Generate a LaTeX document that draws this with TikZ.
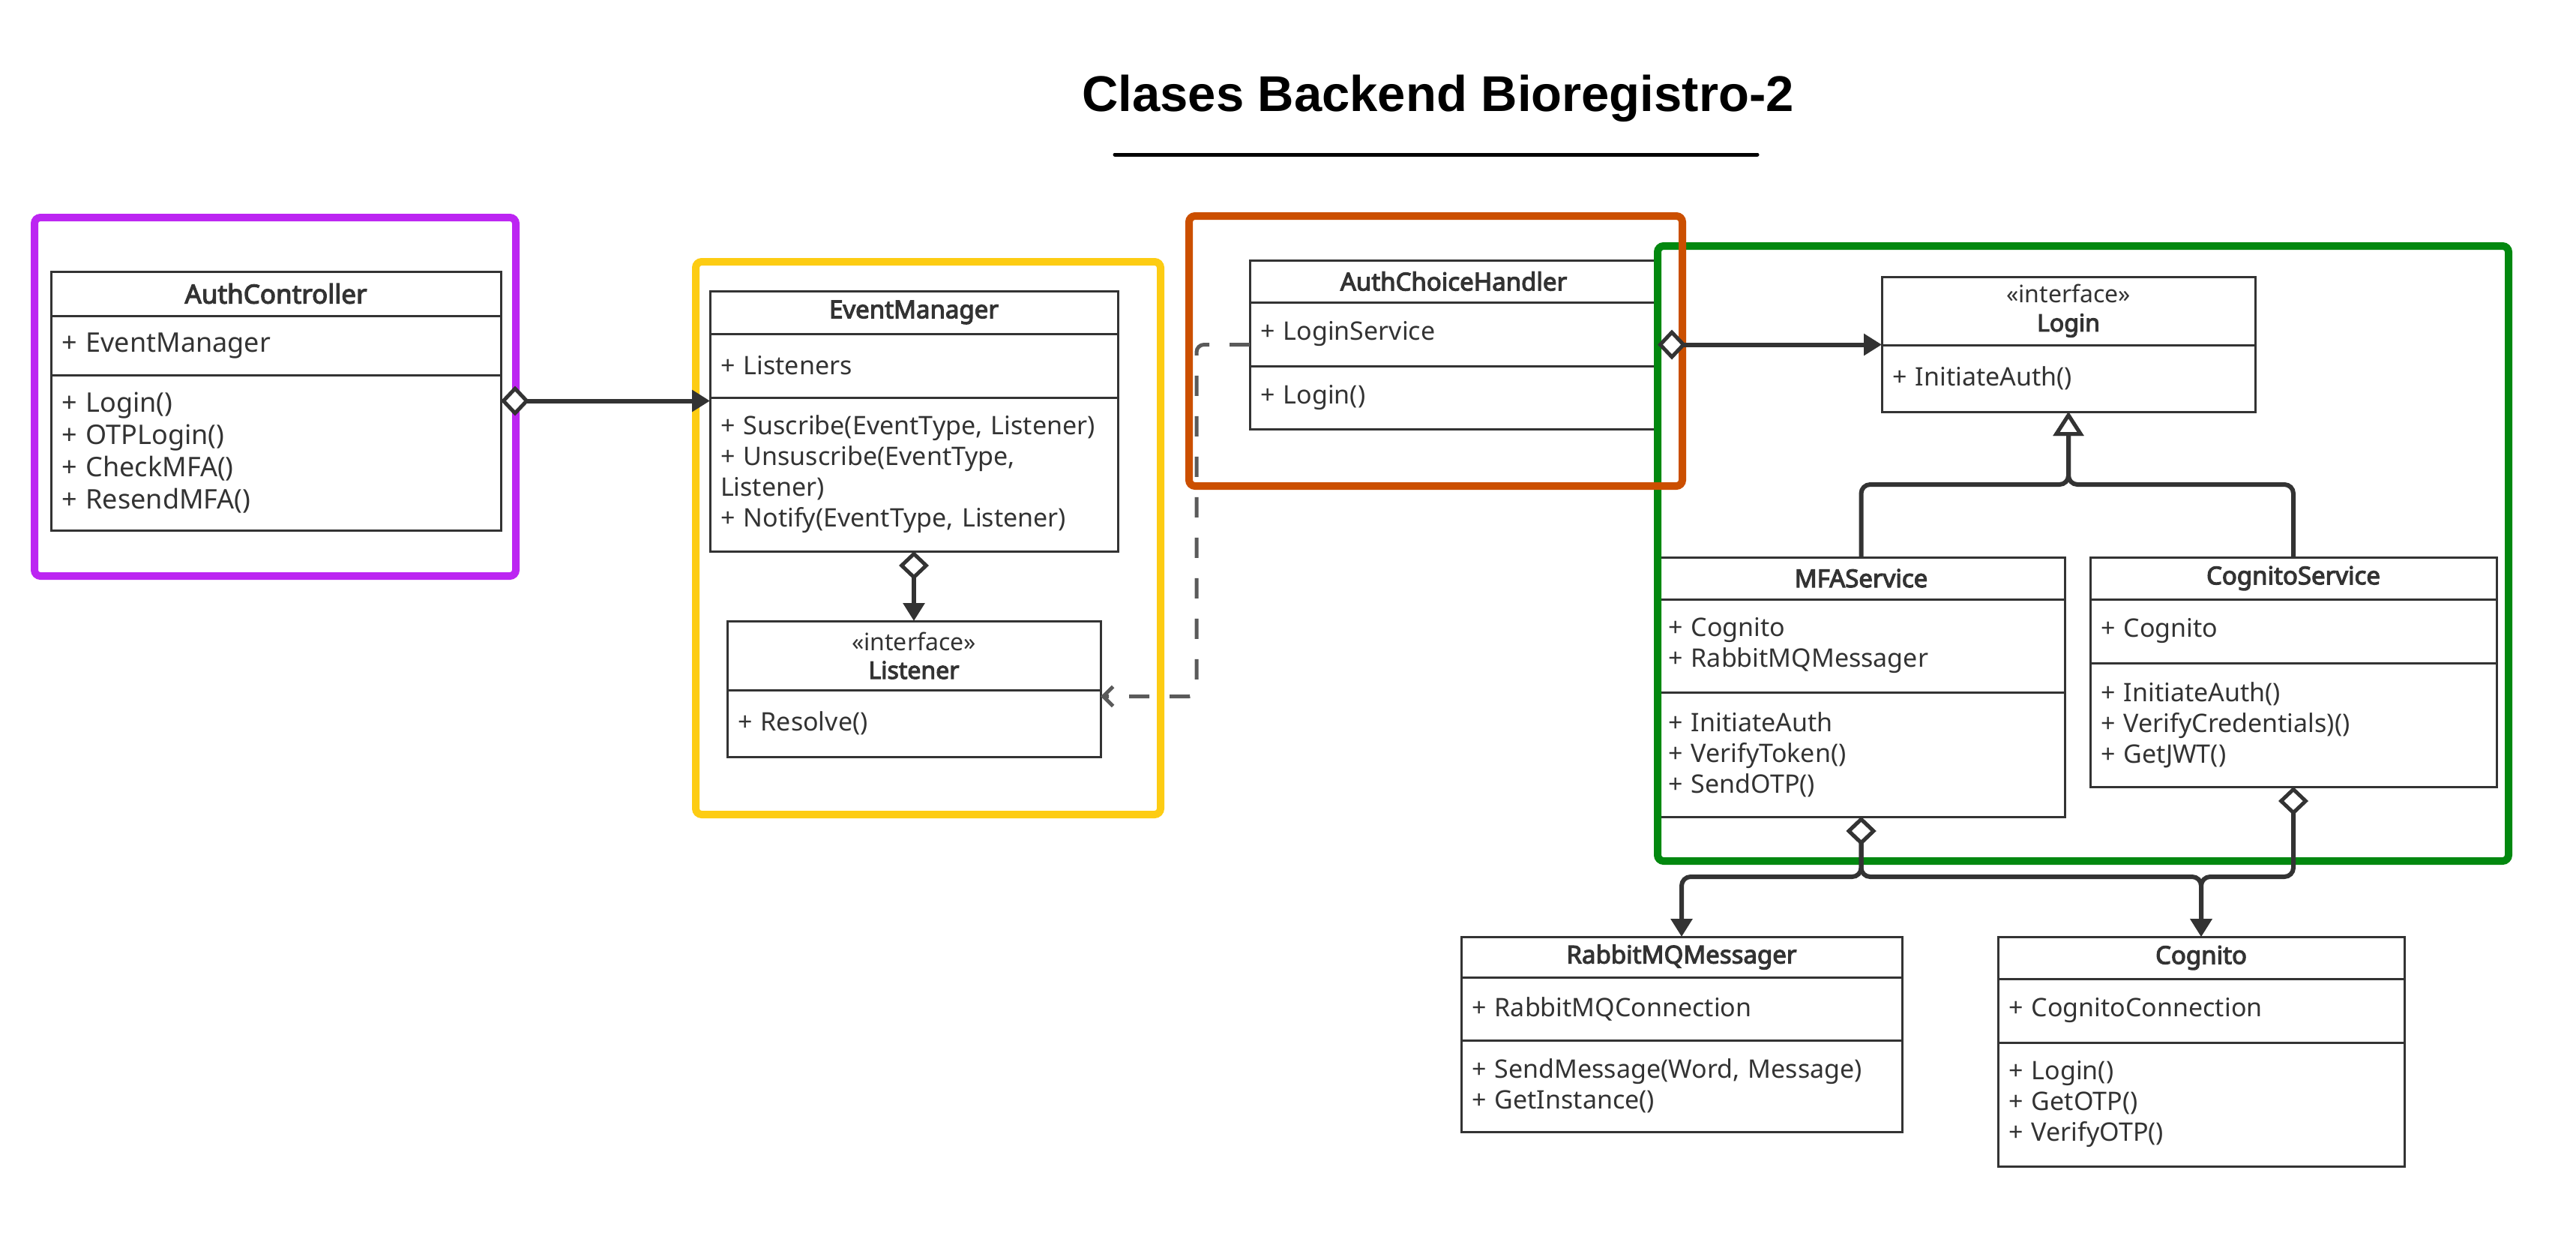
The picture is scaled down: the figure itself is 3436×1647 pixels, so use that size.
\documentclass[tikz,border=0pt]{standalone}
\usepackage{fontspec}
\setmainfont{Noto Sans}[BoldFont={Noto Sans}, BoldFeatures={FakeBold=3.5}]
\newfontfamily\titlefont{Liberation Sans}
\usetikzlibrary{positioning,fit,calc,arrows.meta}
\definecolor{umlgray}{HTML}{333333}
\definecolor{depgray}{HTML}{5A5A5A}
\definecolor{framepurple}{HTML}{BC25F2}
\definecolor{frameyellow}{HTML}{FDCC13}
\definecolor{frameorange}{HTML}{CB4F00}
\definecolor{framegreen}{HTML}{02880F}
\tikzset{
  every node/.style={
    font=\fontsize{34}{41}\selectfont,
    text=umlgray
  },
  umlbox/.style={
    draw=umlgray,
    line width=3pt,
    fill=white,
    inner xsep=14pt,
    inner ysep=0pt,
    outer sep=0pt,
    anchor=north west
  },
  umlhead/.style={
    umlbox,
    font=\fontsize{33}{40}\selectfont\bfseries,
    align=center
  },
  umliface/.style={
    umlbox,
    font=\fontsize{32}{38}\selectfont,
    align=center
  },
  umlbody/.style={
    umlbox,
    align=left
  },
  bigtext/.style={
    font=\fontsize{36}{43}\selectfont
  },
  bighead/.style={
    font=\fontsize{35}{43}\selectfont\bfseries
  },
  wholeclass/.style={
    inner sep=0pt,
    outer sep=0pt
  },
  groupframe/.style={
    line width=10pt,
    rounded corners=8pt
  },
  aggregation/.style={
    draw=umlgray,
    line width=6pt,
    rounded corners=12pt,
    arrows={Diamond[length=38pt,width=40pt,fill=white,line width=5pt]-Triangle[length=24pt,width=28pt]}
  },
  realization/.style={
    draw=umlgray,
    line width=6pt,
    rounded corners=12pt,
    -{Triangle[length=32pt,width=40pt,fill=white,line width=5pt]}
  },
  dependency/.style={
    draw=depgray,
    line width=5pt,
    dash pattern=on 27pt off 27pt,
    rounded corners=10pt,
    -{Straight Barb[length=13pt,width=26pt]}
  }
}

\begin{document}
\begin{tikzpicture}[x=1pt,y=-1pt]

\fill[white] (0,0) rectangle (3436,1647);
\useasboundingbox (0,0) rectangle (3436,1647);

% title
\node[font=\titlefont\bfseries\fontsize{67}{80}\selectfont, text=black] (title) at (1918,131) {Clases Backend Bioregistro-2};
\draw[line width=5pt, line cap=round] (1487,206) -- (2344,206);

% AuthController
\node[umlhead, text width=572pt, minimum height=59pt, bighead] (acH) at (68,362) {AuthController};
\node[umlbody, text width=572pt, minimum height=79pt, bigtext, below=0pt of acH] (acA) {+ EventManager};
\node[umlbody, text width=572pt, minimum height=207pt, bigtext, below=0pt of acA] (acM) {+ Login()\\+ OTPLogin()\\+ CheckMFA()\\+ ResendMFA()};
\node[wholeclass, fit=(acH)(acM)] (ac) {};

% EventManager
\node[umlhead, text width=516pt, minimum height=57pt] (emH) at (947,388) {EventManager};
\node[umlbody, text width=516pt, minimum height=85pt, below=0pt of emH] (emA) {+ Listeners};
\node[umlbody, text width=516pt, minimum height=205pt, below=0pt of emA] (emM) {+ Suscribe(EventType, Listener)\\+ Unsuscribe(EventType,\\Listener)\\+ Notify(EventType, Listener)};
\node[wholeclass, fit=(emH)(emM)] (em) {};

% Listener
\node[umliface, text width=470pt, minimum height=92pt] (lisH) at (970,828) {«interface»\\\textbf{Listener}};
\node[umlbody, text width=470pt, minimum height=89pt, below=0pt of lisH] (lisM) {+ Resolve()};
\node[wholeclass, fit=(lisH)(lisM)] (lis) {};

% AuthChoiceHandler
\node[umlhead, text width=516pt, minimum height=56pt] (achH) at (1667,347) {AuthChoiceHandler};
\node[umlbody, text width=516pt, minimum height=85pt, below=0pt of achH] (achA) {+ LoginService};
\node[umlbody, text width=516pt, minimum height=84pt, below=0pt of achA] (achM) {+ Login()};
\node[wholeclass, fit=(achH)(achM)] (ach) {};

% Login
\node[umliface, text width=470pt, minimum height=91pt] (loginH) at (2510,369) {«interface»\\\textbf{Login}};
\node[umlbody, text width=470pt, minimum height=89pt, below=0pt of loginH] (loginM) {+ InitiateAuth()};
\node[wholeclass, fit=(loginH)(loginM)] (login) {};

% MFAService
\node[umlhead, text width=515pt, minimum height=56pt] (mfaH) at (2211,743) {MFAService};
\node[umlbody, text width=515pt, minimum height=124pt, below=0pt of mfaH] (mfaA) {+ Cognito\\+ RabbitMQMessager};
\node[umlbody, text width=515pt, minimum height=166pt, below=0pt of mfaA] (mfaM) {+ InitiateAuth\\+ VerifyToken()\\+ SendOTP()};
\node[wholeclass, fit=(mfaH)(mfaM)] (mfa) {};

% CognitoService
\node[umlhead, text width=514pt, minimum height=56pt] (csvH) at (2788,743) {CognitoService};
\node[umlbody, text width=514pt, minimum height=85pt, below=0pt of csvH] (csvA) {+ Cognito};
\node[umlbody, text width=514pt, minimum height=165pt, below=0pt of csvA] (csvM) {+ InitiateAuth()\\+ VerifyCredentials)()\\+ GetJWT()};
\node[wholeclass, fit=(csvH)(csvM)] (csv) {};

% RabbitMQMessager
\node[umlhead, text width=560pt, minimum height=54pt] (rmqH) at (1949,1249) {RabbitMQMessager};
\node[umlbody, text width=560pt, minimum height=84pt, below=0pt of rmqH] (rmqA) {+ RabbitMQConnection};
\node[umlbody, text width=560pt, minimum height=122pt, below=0pt of rmqA] (rmqM) {+ SendMessage(Word, Message)\\+ GetInstance()};
\node[wholeclass, fit=(rmqH)(rmqM)] (rmq) {};

% Cognito
\node[umlhead, text width=514pt, minimum height=56pt] (cogH) at (2665,1249) {Cognito};
\node[umlbody, text width=514pt, minimum height=85pt, below=0pt of cogH] (cogA) {+ CognitoConnection};
\node[umlbody, text width=514pt, minimum height=165pt, below=0pt of cogA] (cogM) {+ Login()\\+ GetOTP()\\+ VerifyOTP()};
\node[wholeclass, fit=(cogH)(cogM)] (cog) {};

% groups
\draw[groupframe, draw=framepurple] (46,290) rectangle (688,768);
\draw[groupframe, draw=frameyellow] (928,349) rectangle (1548,1086);
\draw[groupframe, draw=framegreen] (2211,328) rectangle (3346,1148);
\draw[groupframe, draw=frameorange] (1586,288) rectangle (2244,648);

% relations
\draw[aggregation] (ac.east) -- (ac.east -| em.west);
\draw[aggregation] (em.south) -- (lis.north);
\draw[dependency] (ach.west) -- ++(-71,0) |- ($(lis.east)+(0,10)$);
\draw[aggregation] (ach.east) -- (ach.east -| login.west);
\draw[realization] (mfa.north) -- ++(0,-97) -| (login.south);
\draw[realization] (csv.north) -- ++(0,-97) -| (login.south);
\draw[aggregation] (mfa.south) -- ++(0,80) -| (rmq.north);
\draw[aggregation] (mfa.south) -- ++(0,80) -| (cog.north);
\draw[aggregation] (csv.south) -- ++(0,120) -| (cog.north);

\end{tikzpicture}
\end{document}
